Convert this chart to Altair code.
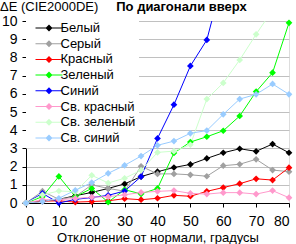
import altair as alt
import pandas as pd

deg = [0, 5, 10, 15, 20, 25, 30, 35, 40, 45, 50, 55, 60, 65, 70, 75, 80]

names = ["Белый", "Серый", "Красный", "Зеленый", "Синий",
         "Св. красный", "Св. зеленый", "Св. синий"]
colors = ["#000000", "#a0a0a0", "#ff0000", "#00ff00", "#0000ff",
          "#ff99cc", "#ccffcc", "#99ccff"]

white = [0, 0.1, 0.2, 0.4, 0.58, 0.8, 1.05, 1.45, 1.72, 1.95, 2.12, 2.45, 2.76, 2.98, 2.84, 3.24, 2.76]
grey = [0, 0.65, 0.2, 0.35, 1.0, 0.8, 0.65, 2.02, 1.6, 1.6, 1.55, 1.47, 2.05, 2.13, 2.4, 1.81, 1.72]
red = [0, 0.1, 0.12, 0.05, 0.08, 0.12, 0.24, 0.18, 0.26, 0.42, 0.37, 0.64, 0.85, 1.06, 1.33, 1.26, 1.94]
green = [0, 0.35, 1.46, 0.35, 0.8, 0.05, 0.73, 0.5, 0.8, 2.75, 3.35, 3.64, 3.97, 4.78, 6.12, 7.16, 9.9]
blue = [0, 0.53, 0.0, 0.2, 0.3, 0.42, 0.66, 1.45, 3.55, 5.4, 7.53, 8.96, 12.4]
light_red = [0, 0.18, 0.18, 0.25, 0.32, 0.35, 0.45, 0.58, 0.64, 0.68, 0.53, 0.49, 0.57, 0.57, 0.49, 0.68, 0.29]
light_green = [0, 0.45, 0.66, 0.62, 1.52, 1.1, 1.36, 1.8, 2.78, 2.85, 3.2, 5.71, 6.6, 7.86, 9.27, 10.6]
light_blue = [0, 0.07, 0.26, 0.7, 1.12, 1.63, 2.07, 2.58, 3.17, 3.4, 3.83, 3.98, 4.87, 5.71, 5.97, 6.54, 5.97]

series = [white, grey, red, green, blue, light_red, light_green, light_blue]

rows = []
for name, vals in zip(names, series):
    for d, v in zip(deg, vals):
        rows.append({"deg": d, "dE": v, "series": name})
df = pd.DataFrame(rows)

FONT = "Liberation Sans"

x_enc = alt.X("deg:Q", scale=alt.Scale(domain=[0, 80], nice=False),
              axis=alt.Axis(values=list(range(0, 81, 10)), title="Отклонение от нормали, градусы",
                            grid=False, tickSize=4, labelPadding=7, labelFontSize=14,
                            titleFontSize=13, titleFontWeight="normal", titleBaseline="alphabetic",
                            titleY=38, domainColor="black", tickColor="black",
                            labelColor="black", titleColor="black", labelFont=FONT, titleFont=FONT))
y_enc = alt.Y("dE:Q", scale=alt.Scale(domain=[0, 10], nice=False),
              axis=alt.Axis(values=list(range(0, 11)), title=None, grid=True, gridColor="#c0c0c0",
                            gridWidth=1, tickSize=4, labelPadding=5, labelFontSize=14,
                            domainColor="black", tickColor="black", labelColor="black",
                            labelFont=FONT))

legend_path = "M-3.375,-0.125H3.375V0.125H-3.375Z M0,-0.875L0.875,0L0,0.875L-0.875,0Z"

lines = alt.Chart(df).mark_line(strokeWidth=1, clip=True).encode(
    x=x_enc, y=y_enc,
    stroke=alt.Stroke("series:N", scale=alt.Scale(domain=names, range=colors), legend=None),
)

points = alt.Chart(df).transform_filter(alt.datum.dE <= 10).mark_point(
    filled=True, shape="diamond", size=45, opacity=1, strokeWidth=0
).encode(
    x=x_enc, y=y_enc,
    fill=alt.Fill("series:N", scale=alt.Scale(domain=names, range=colors),
                  legend=alt.Legend(orient="none", legendX=0, legendY=-2.5, title=None,
                                    labelFont=FONT, labelFontSize=13, labelColor="black",
                                    fillColor="white", padding=3, symbolType=legend_path,
                                    symbolSize=64, symbolStrokeWidth=0, symbolOffset=13.5,
                                    labelOffset=5, rowPadding=1.7, symbolOpacity=1)),
)

title_df = pd.DataFrame({"t": ["По диагонали вверх"]})
ytitle_df = pd.DataFrame({"t": ["ΔE (CIE2000DE)"]})

title_txt = alt.Chart(title_df).mark_text(
    font=FONT, fontSize=13, fontWeight="bold", align="center", baseline="alphabetic", color="black"
).encode(x=alt.value(155.5), y=alt.value(-10.5), text="t:N")

ytitle_txt = alt.Chart(ytitle_df).mark_text(
    font=FONT, fontSize=13, align="left", baseline="alphabetic", color="black"
).encode(x=alt.value(-26), y=alt.value(-10.5), text="t:N")

chart = alt.layer(lines, points, title_txt, ytitle_txt).resolve_scale(
    stroke="independent", fill="independent"
).properties(
    width=263, height=182,
    autosize=alt.AutoSizeParams(type="none"),
    padding={"left": 26, "top": 21, "right": 7, "bottom": 41},
).configure_view(stroke="transparent").configure(background="white")

chart.save("out.html", embed_options={"renderer": "svg", "actions": False})
